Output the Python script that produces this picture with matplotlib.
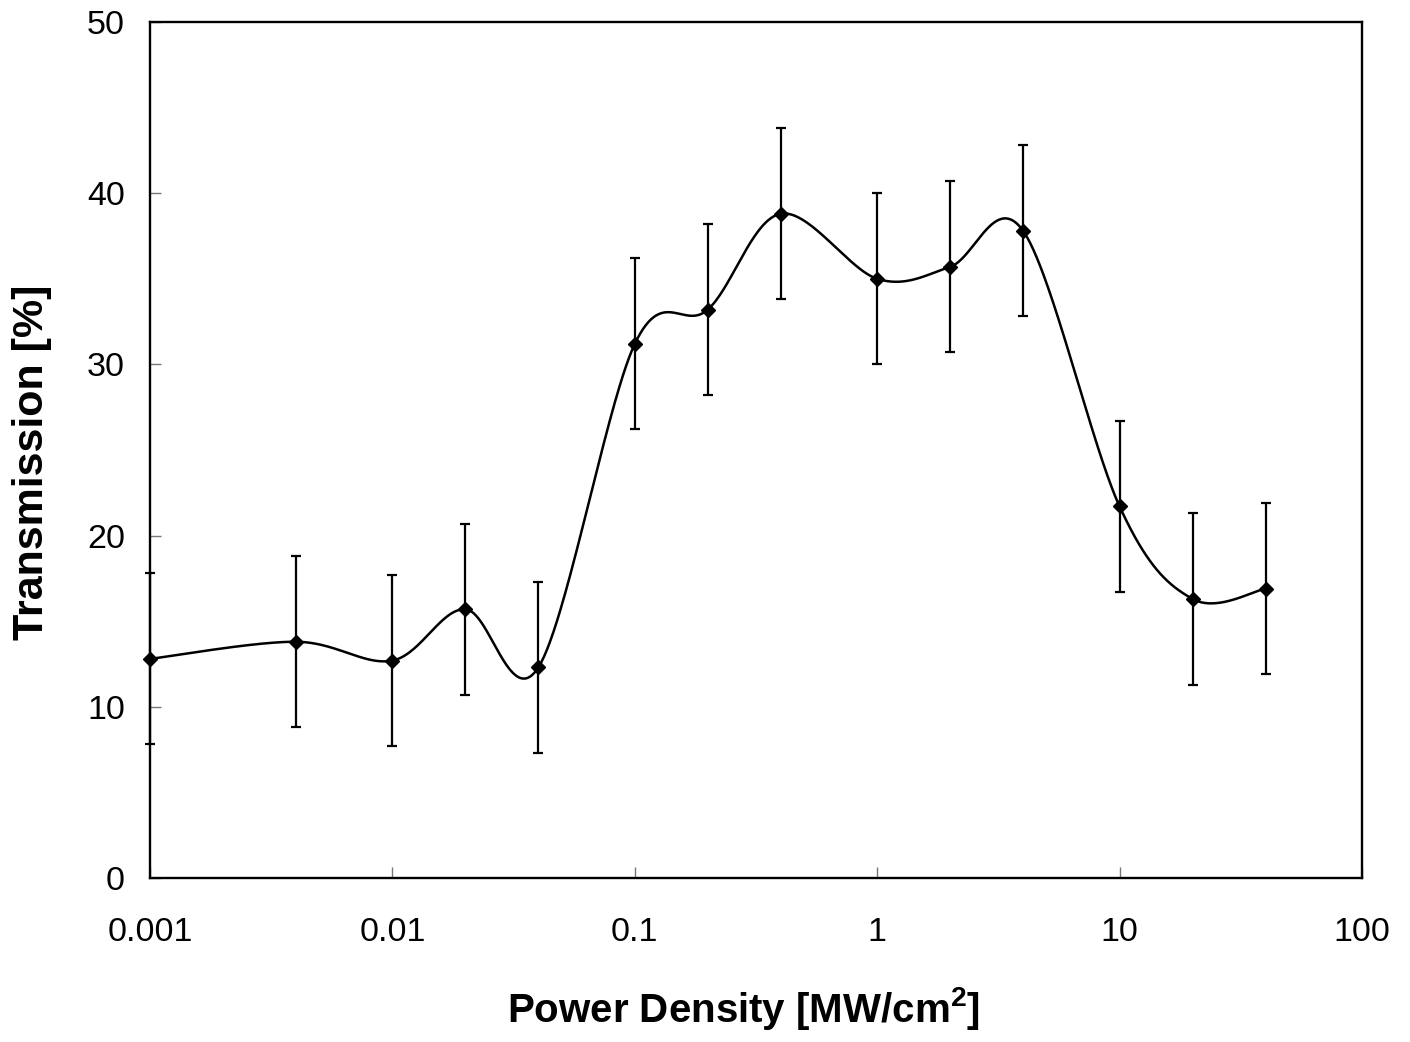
import numpy as np
import matplotlib
matplotlib.use('Agg')
import matplotlib.pyplot as plt

# power density [MW/cm^2] and measured transmission [%]
power = [0.001, 0.004, 0.01, 0.02, 0.04, 0.1, 0.2, 0.4, 1, 2, 4, 10, 20, 40]
transmission = [12.8, 13.8, 12.7, 15.7, 12.3, 31.2, 33.2, 38.8, 35.0, 35.7, 37.8, 21.7, 16.3, 16.9]
error = [5, 5, 5, 5, 5, 5, 5, 5, 5, 5, 5, 5, 5, 5]

x_ticks = [0.001, 0.01, 0.1, 1, 10, 100]
x_tick_labels = ['0.001', '0.01', '0.1', '1', '10', '100']
y_ticks = [0, 10, 20, 30, 40, 50]

plt.rcParams['font.family'] = ['Liberation Sans', 'DejaVu Sans']
plt.rcParams['mathtext.fontset'] = 'custom'
plt.rcParams['mathtext.rm'] = 'Liberation Sans'
plt.rcParams['mathtext.bf'] = 'Liberation Sans:bold'


def smooth_curve(xs, ys, w_px, h_px, n=60):
    """spreadsheet-style smoothed line (cubic bezier, 1/6 control points) in pixel space"""
    px = (np.log10(xs) + 3) / 5 * w_px
    py = np.asarray(ys) / 50 * h_px
    pts = np.column_stack([px, py])
    pad = np.vstack([pts[0], pts, pts[-1]])
    out = []
    t = np.linspace(0, 1, n)[:, None]
    for i in range(len(pts) - 1):
        p0, p1 = pad[i + 1], pad[i + 2]
        c1 = p0 + (pad[i + 2] - pad[i]) / 6
        c2 = p1 - (pad[i + 3] - pad[i + 1]) / 6
        seg = (1 - t) ** 3 * p0 + 3 * (1 - t) ** 2 * t * c1 + 3 * (1 - t) * t ** 2 * c2 + t ** 3 * p1
        out.append(seg)
    curve = np.vstack(out)
    cx = 10 ** (curve[:, 0] / w_px * 5 - 3)
    cy = curve[:, 1] / h_px * 50
    return cx, cy


fig = plt.figure(figsize=(14.1, 10.42), dpi=100)
ax = fig.add_axes([150 / 1410, 1 - 878 / 1042, 1212 / 1410, 856 / 1042])

cx, cy = smooth_curve(power, transmission, 1212, 856)
ax.plot(cx, cy, color='black', linewidth=1.8, clip_on=False)
ax.errorbar(power, transmission, yerr=error, fmt='D', color='black',
            markersize=7, elinewidth=1.6, capsize=3.8, capthick=1.6, clip_on=False)

ax.set_xscale('log')
ax.set_xlim(0.001, 100)
ax.set_ylim(0, 50)
ax.set_xticks(x_ticks)
ax.set_xticklabels(x_tick_labels)
ax.xaxis.set_minor_locator(matplotlib.ticker.NullLocator())
ax.set_yticks(y_ticks)

ax.tick_params(axis='x', direction='in', length=8, width=1, color='#777777',
               labelsize=24.5, pad=28)
ax.tick_params(axis='y', direction='in', length=8, width=1, color='#777777',
               labelsize=24.5, pad=18)
for side in ['left', 'bottom', 'right', 'top']:
    ax.spines[side].set_linewidth(1.7)

ax.set_xlabel(r'Power Density [MW/cm$^\mathbf{2}$]', fontsize=29, fontweight='bold')
ax.set_ylabel('Transmission [%]', fontsize=31, fontweight='bold')
ax.xaxis.set_label_coords(0.49, -0.125)
ax.yaxis.set_label_coords(-0.081, 0.486)

fig.savefig('out.png', dpi=100)
